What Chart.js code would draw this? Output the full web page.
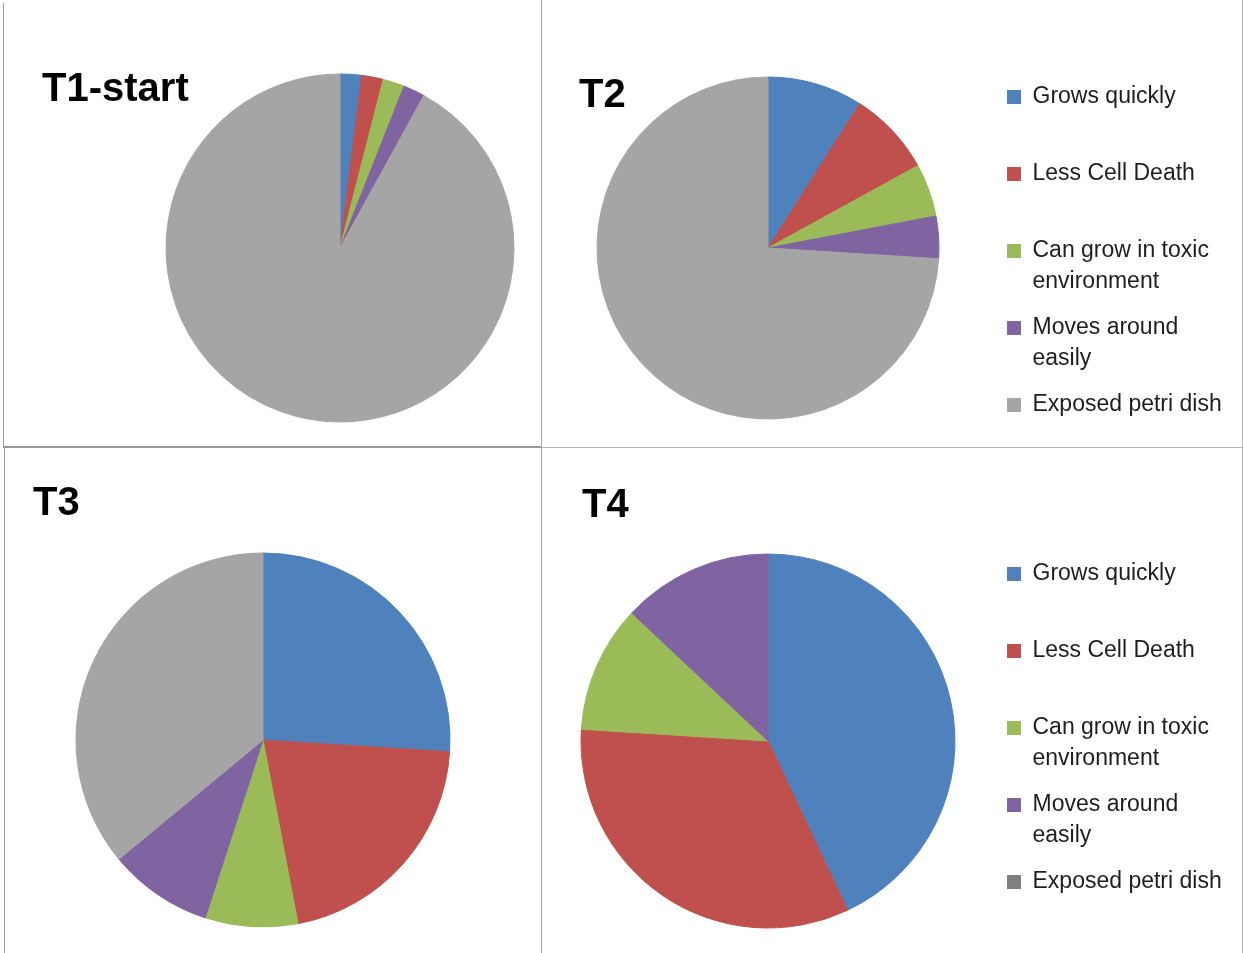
<!DOCTYPE html>
<html>
<head>
<meta charset="utf-8">
<title>Pie charts T1-T4</title>
<script src="https://cdn.jsdelivr.net/npm/chart.js@4.4.1/dist/chart.umd.min.js"></script>
<style>
  body { margin: 0; background: #fff; overflow: hidden; }
  .line { position: absolute; background: #a6a6a6; }
  canvas { position: absolute; }
</style>
</head>
<body>
<div class="line" style="left:3px;top:3px;width:1px;height:444px;"></div>
<div class="line" style="left:3px;top:446px;width:538px;height:2px;background:#999;"></div>
<div class="line" style="left:541px;top:0;width:1px;height:953px;"></div>
<div class="line" style="left:541px;top:447px;width:702px;height:1px;background:#b4b4b4;"></div>
<div class="line" style="left:1242px;top:0;width:1px;height:953px;background:#b4b4b4;"></div>
<div class="line" style="left:4px;top:448px;width:1px;height:505px;"></div>

<!-- t1 canvas is wider than its panel so the pie sits right of centre; the extra part stays empty -->
<canvas id="t1" width="634" height="446" style="left:4px;top:0;"></canvas>
<canvas id="t2" width="699" height="447" style="left:542px;top:0;"></canvas>
<canvas id="t3" width="536" height="504" style="left:5px;top:449px;"></canvas>
<canvas id="t4" width="699" height="504" style="left:542px;top:449px;"></canvas>

<script>
const categories = ['Grows quickly', 'Less Cell Death', 'Can grow in toxic environment', 'Moves around easily', 'Exposed petri dish'];
// legend text wrapped like the original (blank second line keeps rows evenly spaced)
const legendLines = [
    ['Grows quickly', ''],
    ['Less Cell Death', ''],
    ['Can grow in toxic', 'environment'],
    ['Moves around', 'easily'],
    'Exposed petri dish'
];

const t1Values = [2, 2, 2, 2, 92];
const t2Values = [9, 8, 5, 4, 74];
const t3Values = [26, 21, 8, 9, 36];
const t4Values = [43, 33, 11, 13, 0];

const colors = ['#4F81BD', '#C0504D', '#9BBB59', '#8064A2', '#A5A5A5'];
const colorsT4 = ['#4F81BD', '#C0504D', '#9BBB59', '#8064A2', '#7F7F7F'];

const FONT = "'Liberation Sans', Arial, sans-serif";

function makePie(id, title, values, cols, opts) {
    const plugins = {
        title: {
            display: true,
            text: title,
            align: 'start',
            color: '#000',
            font: { family: FONT, size: 40, weight: 'bold', lineHeight: 1.2 },
            padding: opts.titlePad
        },
        legend: { display: false },
        tooltip: { enabled: false }
    };
    if (opts.legend) {
        plugins.legend = {
            display: true,
            position: 'right',
            align: 'start',
            maxWidth: 236,
            title: { display: true, text: '', font: { size: 12, lineHeight: 1 }, padding: { top: opts.legend.top, bottom: 0 } },
            labels: {
                boxWidth: 14,
                boxHeight: 14,
                padding: 15,
                color: '#1e1e1e',
                font: { family: FONT, size: 23, lineHeight: 1.348 },
                generateLabels: chart => {
                    const ds = chart.data.datasets[0];
                    return chart.data.labels.map((l, i) => ({
                        text: legendLines[i],
                        fillStyle: ds.backgroundColor[i],
                        strokeStyle: ds.backgroundColor[i],
                        lineWidth: 0,
                        fontColor: '#1e1e1e',
                        hidden: false,
                        index: i
                    }));
                }
            }
        };
        // empty box between pie and legend (10px line + padding)
        plugins.subtitle = {
            display: true,
            text: '',
            position: 'right',
            fullSize: false,
            weight: 500,
            font: { size: 10, lineHeight: 1 },
            padding: { top: (opts.legend.gap - 10) / 2, bottom: (opts.legend.gap - 10) / 2 }
        };
    }

    new Chart(document.getElementById(id), {
        type: 'pie',
        data: {
            labels: categories,
            datasets: [{
                data: values,
                backgroundColor: cols,
                borderColor: cols,
                borderWidth: 1,
                radius: opts.radius
            }]
        },
        options: {
            responsive: false,
            animation: false,
            events: [],
            layout: { padding: opts.padding },
            plugins: plugins
        }
    });
}

makePie('t1', 'T1-start', t1Values, colors, {
    radius: 174,
    titlePad: { top: 66, bottom: -1.5 },
    padding: { left: 38, right: 0, top: 0, bottom: 62.5 }
});
makePie('t2', 'T2', t2Values, colors, {
    radius: 171,
    titlePad: { top: 72, bottom: -71 },
    padding: { left: 37, right: 13, top: 0, bottom: 0 },
    legend: { top: 58.5, gap: 35 }
});
makePie('t3', 'T3', t3Values, colors, {
    radius: 187,
    titlePad: { top: 31, bottom: -1 },
    padding: { left: 28, right: 48, top: 0, bottom: -2 }
});
makePie('t4', 'T4', t4Values, colorsT4, {
    radius: 187,
    titlePad: { top: 33, bottom: -1 },
    padding: { left: 40, right: 13, top: 0, bottom: 0 },
    legend: { top: 86.5, gap: 38 }
});
</script>
</body>
</html>
